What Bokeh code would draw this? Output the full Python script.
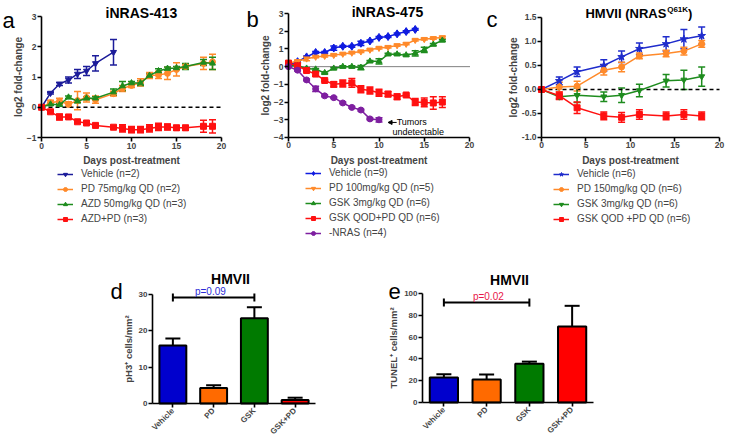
from math import pi
from bokeh.plotting import figure
from bokeh.models import (ColumnDataSource, Whisker, TeeHead, Label, Legend, LegendItem,
                          FixedTicker, Range1d, Arrow, NormalHead, NumeralTickFormatter, LinearAxis)
from bokeh.layouts import row, column
from bokeh.embed import file_html
from bokeh.resources import INLINE

FONT = "Liberation Sans"

# ---------------- Panel a: iNRAS-413 ----------------
a_days_veh = [0, 1, 2, 3, 4, 5, 6, 8]
a_veh = [0, 0.47, 0.77, 0.9, 1.1, 1.2, 1.45, 1.82]
a_veh_err = [0, 0.03, 0.05, 0.1, 0.15, 0.15, 0.25, 0.42]
a_days = [0, 1, 2, 3, 4, 5, 6, 8, 9, 10, 11, 12, 13, 14, 15, 16, 18, 19]
a_pd = [0, 0.15, 0.2, 0.1, 0.22, 0.32, 0.25, 0.45, 0.62, 0.72, 0.82, 1.05, 1.07, 1.12, 1.25, 1.35, 1.45, 1.5]
a_pd_err = [0, 0.08, 0.1, 0.08, 0.3, 0.15, 0.12, 0.08, 0.1, 0.07, 0.12, 0.1, 0.12, 0.2, 0.22, 0.06, 0.2, 0.25]
a_azd = [0, 0.1, 0.08, 0.33, 0.2, 0.3, 0.3, 0.5, 0.7, 0.8, 0.8, 1.05, 1.2, 1.28, 1.3, 1.35, 1.48, 1.45]
a_azd_err = [0, 0.03, 0.04, 0.04, 0.05, 0.05, 0.05, 0.1, 0.15, 0.05, 0.08, 0.05, 0.07, 0.05, 0.05, 0.1, 0.1, 0.2]
a_combo = [0, -0.15, -0.32, -0.32, -0.48, -0.52, -0.6, -0.66, -0.7, -0.74, -0.74, -0.7, -0.65, -0.65, -0.68, -0.68, -0.63, -0.63]
a_combo_err = [0, 0.03, 0.1, 0.04, 0.04, 0.03, 0.04, 0.04, 0.12, 0.1, 0.1, 0.12, 0.12, 0.1, 0.08, 0.08, 0.2, 0.22]
a_labels = ["Vehicle (n=2)", "PD 75mg/kg QD (n=2)", "AZD 50mg/kg QD (n=3)", "AZD+PD (n=3)"]

# ---------------- Panel b: iNRAS-475 ----------------
b_days_veh = list(range(0, 15))
b_veh = [0.1, 0.28, 0.55, 0.8, 0.8, 1.05, 1.15, 1.15, 1.32, 1.45, 1.65, 1.7, 1.85, 1.98, 2.1]
b_veh_err = [0, 0.05, 0.05, 0.05, 0.05, 0.12, 0.05, 0.05, 0.12, 0.05, 0.05, 0.05, 0.05, 0.05, 0.05]
b_days = list(range(0, 18))
b_pd = [0.2, 0.3, 0.45, 0.55, 0.6, 0.65, 0.72, 0.78, 0.85, 0.95, 1.05, 1.1, 1.2, 1.28, 1.5, 1.55, 1.6, 1.65]
b_pd_err = [0.05, 0.05, 0.12, 0.05, 0.05, 0.05, 0.05, 0.05, 0.05, 0.05, 0.05, 0.05, 0.05, 0.05, 0.05, 0.05, 0.05, 0.05]
b_gsk = [0.05, 0.05, -0.1, -0.15, -0.35, -0.1, 0, 0, -0.05, 0.3, 0.3, 0.7, 0.7, 0.65, 0.75, 0.95, 1.25, 1.48]
b_gsk_err = [0.03, 0.03, 0.03, 0.05, 0.05, 0.05, 0.05, 0.05, 0.12, 0.05, 0.15, 0.05, 0.05, 0.05, 0.15, 0.15, 0.05, 0.05]
b_combo = [0.2, 0.05, -0.22, -0.42, -0.78, -1.0, -0.95, -0.92, -1.28, -1.35, -1.47, -1.55, -1.7, -1.6, -2.0, -2.02, -2.05, -2.0]
b_combo_err = [0.05, 0.15, 0.05, 0.12, 0.05, 0.15, 0.2, 0.25, 0.2, 0.2, 0.2, 0.15, 0.15, 0.05, 0.2, 0.25, 0.35, 0.3]
b_days_nras = list(range(0, 11))
b_nras = [0, -0.2, -0.75, -1.25, -1.65, -1.75, -2.05, -2.3, -2.45, -2.95, -3.0]
b_nras_err = [0.03, 0.05, 0.05, 0.15, 0.05, 0.05, 0.05, 0.05, 0.05, 0.05, 0.12]
b_labels = ["Vehicle (n=9)", "PD 100mg/kg QD (n=5)", "GSK 3mg/kg QD (n=6)", "GSK QOD+PD QD (n=6)", "-NRAS (n=4)"]

# ---------------- Panel c: HMVII ----------------
c_days = [0, 2, 4, 7, 9, 11, 14, 16, 18]
c_veh = [0, 0.18, 0.37, 0.5, 0.68, 0.85, 0.95, 1.05, 1.12]
c_veh_err = [0, 0.08, 0.1, 0.12, 0.12, 0.12, 0.15, 0.2, 0.18]
c_pd = [0, 0.05, 0.07, 0.4, 0.47, 0.7, 0.75, 0.8, 0.95]
c_pd_err = [0, 0.1, 0.1, 0.1, 0.1, 0.06, 0.07, 0.08, 0.07]
c_gsk = [0, -0.15, -0.12, -0.15, -0.12, -0.02, 0.18, 0.2, 0.27]
c_gsk_err = [0, 0.05, 0.15, 0.1, 0.15, 0.13, 0.13, 0.2, 0.2]
c_combo = [0, -0.13, -0.38, -0.55, -0.58, -0.52, -0.55, -0.52, -0.55]
c_combo_err = [0, 0.08, 0.12, 0.08, 0.1, 0.1, 0.08, 0.1, 0.08]
c_labels = ["Vehicle (n=6)", "PD 150mg/kg QD (n=6)", "GSK 3mg/kg QD (n=6)", "GSK QOD +PD QD (n=6)"]

# ---------------- Panels d, e: bars ----------------
bar_cats = ["Vehicle", "PD", "GSK", "GSK+PD"]
d_vals = [16.0, 4.3, 23.5, 1.0]
d_err = [1.9, 0.7, 3.0, 0.6]
e_vals = [23.0, 21.0, 35.5, 69.7]
e_err = [3.0, 4.7, 2.0, 19.0]
d_pval = "p=0.09"
e_pval = "p=0.02"

BLUE_A = "#1c1c9a"
BLUE_B = "#0f1be0"
BLUE_C = "#1f2ccc"
ORANGE = "#ff8a2a"
GREEN = "#1e8c1e"
RED = "#ff1010"
PURPLE = "#7e1fa0"
BAR_COLORS = ["#0000cd", "#ff6a00", "#007a00", "#ff0000"]


def style_axis(ax, tick_size, label_size, label_standoff):
    ax.axis_line_width = 1.6
    ax.major_tick_line_width = 1.6
    ax.major_tick_out = 4
    ax.major_tick_in = 0
    ax.minor_tick_line_color = None
    ax.major_label_text_font = FONT
    ax.major_label_text_font_style = "bold"
    ax.major_label_text_font_size = tick_size
    ax.axis_label_text_font = FONT
    ax.axis_label_text_font_style = "bold"
    ax.axis_label_text_font_size = label_size
    ax.major_label_standoff = 1
    ax.axis_label_standoff = label_standoff


def base_fig(width, height, xr, yr):
    p = figure(width=width, height=height, output_backend="svg", toolbar_location=None,
               x_range=Range1d(*xr), y_range=Range1d(*yr),
               x_axis_location=None, y_axis_location=None, min_border=0)
    p.outline_line_color = None
    p.xgrid.visible = False
    p.ygrid.visible = False
    p.background_fill_color = None
    p.border_fill_color = None
    return p


def add_axes(p, xb, yb, xticks, yticks, xlabel, ylabel, tick_size="8.5px", label_size="10px",
             ystand=0):
    xa = LinearAxis(fixed_location=yb[0], bounds=xb, ticker=FixedTicker(ticks=xticks),
                    axis_label=xlabel)
    ya = LinearAxis(fixed_location=xb[0], bounds=yb, ticker=FixedTicker(ticks=yticks),
                    axis_label=ylabel)
    style_axis(xa, tick_size, label_size, 3)
    style_axis(ya, tick_size, label_size, ystand)
    p.add_layout(xa, "below")
    p.add_layout(ya, "left")
    return xa, ya


def add_series(p, x, y, err, color, marker, msize):
    up = [v + e for v, e in zip(y, err)]
    lo = [v - e for v, e in zip(y, err)]
    src = ColumnDataSource(dict(x=x, y=y, up=up, lo=lo))
    w = Whisker(source=src, base="x", upper="up", lower="lo", dimension="height",
                line_color=color, line_width=1.5,
                upper_head=TeeHead(size=7, line_color=color, line_width=1.5),
                lower_head=TeeHead(size=7, line_color=color, line_width=1.5))
    p.add_layout(w)
    l = p.line("x", "y", source=src, line_color=color, line_width=1.5)
    s = p.scatter("x", "y", source=src, marker=marker, size=msize, color=color)
    return [l, s]


def add_legend(p, items, loc):
    lg = Legend(items=[LegendItem(label=t, renderers=r) for t, r in items],
                location=loc, background_fill_alpha=0, border_line_color=None,
                padding=0, margin=0, spacing=4, glyph_height=10, glyph_width=16,
                label_height=10, label_standoff=8, label_text_font=FONT,
                label_text_font_size="10px", label_text_baseline="middle")
    p.add_layout(lg)


def text(p, x, y, t, size, style="bold", align="center", baseline="middle", color="black"):
    p.add_layout(Label(x=x, y=y, text=t, text_font=FONT, text_font_size=size,
                       text_font_style=style, text_align=align, text_baseline=baseline,
                       text_color=color))


# ---- a  (page x 0..244, y 0..245; 0..20 -> 41..221, 3..-1 -> 16..137)
pa = base_fig(244, 245, (-4.556, 22.556), (-4.570, 3.529))
add_axes(pa, (0, 20), (-1, 3), [0, 5, 10, 15, 20], [-1, 0, 1, 2, 3],
         "Days post-treatment", "log2 fold-change")
pa.line(x=[0, 20], y=[0, 0], line_color="black", line_width=1.5, line_dash="4 3")
ra = [
    add_series(pa, a_days_veh, a_veh, a_veh_err, BLUE_A, "inverted_triangle", 6),
    add_series(pa, a_days, a_pd, a_pd_err, ORANGE, "circle", 6),
    add_series(pa, a_days, a_azd, a_azd_err, GREEN, "triangle", 6),
    add_series(pa, a_days, a_combo, a_combo_err, RED, "square", 6),
]
add_legend(pa, list(zip(a_labels, ra)), (57, 21))
text(pa, 11.1, 3.13, "iNRAS-413", "14px")
text(pa, -4.33, 2.88, "a", "22px", style="normal", align="left", baseline="alphabetic")

# ---- b  (page x 244..484; 0..20 -> 288..469; 3..-4 -> 13..137)
pb = base_fig(240, 245, (-4.862, 21.657), (-10.097, 3.734))
add_axes(pb, (0, 20), (-4, 3), [0, 5, 10, 15, 20], [-4, -3, -2, -1, 0, 1, 2, 3],
         "Days post-treatment", "log2 fold-change")
pb.line(x=[0, 20], y=[0, 0], line_color="black", line_width=1, line_dash="1 1")
rb = [
    add_series(pb, b_days_veh, b_veh, b_veh_err, BLUE_B, "diamond", 8),
    add_series(pb, b_days, b_pd, b_pd_err, ORANGE, "inverted_triangle", 6),
    add_series(pb, b_days, b_gsk, b_gsk_err, GREEN, "triangle", 6),
    add_series(pb, b_days, b_combo, b_combo_err, RED, "square", 6),
    add_series(pb, b_days_nras, b_nras, b_nras_err, PURPLE, "circle", 6),
]
add_legend(pb, list(zip(b_labels, rb)), (61, 7))
text(pb, 10.94, 3.06, "iNRAS-475", "14px")
text(pb, -4.64, 2.66, "b", "22px", style="normal", align="left", baseline="alphabetic")
pb.add_layout(Arrow(end=NormalHead(size=4, fill_color="black", line_color="black"),
                    x_start=11.95, y_start=-3.15, x_end=11.0, y_end=-3.15,
                    line_color="black", line_width=1))
text(pb, 11.95, -3.15, "Tumors", "9px", style="normal", align="left")
text(pb, 11.5, -3.68, "undetectable", "9px", style="normal", align="left")

# ---- c  (page x 484..729; 0..20 -> 541..719; 1.5..-1 -> 17..137)
pc = base_fig(245, 245, (-6.404, 21.124), (-3.25, 1.854))
xa_c, ya_c = add_axes(pc, (0, 20), (-1, 1.5), [0, 5, 10, 15, 20], [-1, -0.5, 0, 0.5, 1, 1.5],
                      "Days post-treatment", "log2 fold-change")
ya_c.formatter = NumeralTickFormatter(format="0.0")
pc.line(x=[0, 20], y=[0, 0], line_color="black", line_width=1.5, line_dash="4 3")
rc = [
    add_series(pc, c_days, c_veh, c_veh_err, BLUE_C, "star", 8),
    add_series(pc, c_days, c_pd, c_pd_err, ORANGE, "circle", 6),
    add_series(pc, c_days, c_gsk, c_gsk_err, GREEN, "inverted_triangle", 6),
    add_series(pc, c_days, c_combo, c_combo_err, RED, "square", 6),
]
add_legend(pc, list(zip(c_labels, rc)), (69, 21))
text(pc, 4.94, 1.583, "HMVII (NRAS", "13px", align="left")
text(pc, 14.12, 1.667, "Q61K", "8px", align="left")
text(pc, 16.45, 1.583, ")", "13px", align="left")
text(pc, -6.18, 1.45, "c", "22px", style="normal", align="left", baseline="alphabetic")


# ---- bars
def bar_fig(width, height, xr, yr, ymax, yticks, vals, errs, ylabel, title_xy, letter,
            letter_xy, pval, pcolor, bracket_y, cap, ptext_xy):
    p = base_fig(width, height, xr, yr)
    xs = [i + 0.5 for i in range(len(bar_cats))]
    xa, ya = add_axes(p, (0, len(bar_cats)), (0, ymax), xs, yticks, None, ylabel,
                      tick_size="8px", label_size="9.5px", ystand=2)
    xa.major_label_overrides = {x: c for x, c in zip(xs, bar_cats)}
    xa.major_label_orientation = pi / 4
    xa.major_label_standoff = 2
    src = ColumnDataSource(dict(x=xs, top=vals, color=BAR_COLORS,
                                up=[v + e for v, e in zip(vals, errs)]))
    p.vbar(x="x", top="top", width=0.66, source=src, fill_color="color",
           line_color="black", line_width=2)
    p.add_layout(Whisker(source=src, base="x", upper="up", lower="top", dimension="height",
                         line_color="black", line_width=2,
                         upper_head=TeeHead(size=15, line_color="black", line_width=2),
                         lower_head=None))
    bx0, bx1 = xs[0], xs[2]
    p.segment(x0=[bx0, bx0, bx1], y0=[bracket_y, bracket_y - cap, bracket_y - cap],
              x1=[bx1, bx0, bx1], y1=[bracket_y, bracket_y + cap, bracket_y + cap],
              line_color="black", line_width=2)
    text(p, ptext_xy[0], ptext_xy[1], pval, "10px", style="normal", color=pcolor)
    text(p, title_xy[0], title_xy[1], "HMVII", "14px")
    text(p, letter_xy[0], letter_xy[1], letter, "22px", style="normal", align="left",
         baseline="alphabetic")
    return p


# d: page x 0..330, y 245..440; 0..4 -> 152..315; 0..30 -> 403..294
pd_ = bar_fig(330, 195, (-3.730, 4.368), (-10.18, 43.49), 30, [0, 10, 20, 30], d_vals, d_err,
              "pH3\u207a cells/mm\u00b2", (1.914, 34.4), "d", (-1.03, 30.8),
              d_pval, "#2b2bd6", 29.2, 1.1, (1.42, 30.9))
# e: page x 330..729; 0..4 -> 422..593; 0..100 -> 402..293
pe = bar_fig(399, 195, (-2.152, 7.181), (-34.86, 144.04), 100, [0, 20, 40, 60, 80, 100],
             e_vals, e_err, "TUNEL\u207a cells/mm\u00b2", (2.035, 112), "e", (-0.795, 101.8),
             e_pval, "#e8174a", 91.7, 3.7, (1.54, 97.7))

layout = column(row(pa, pb, pc), row(pd_, pe))
open("out.html", "w").write(file_html(layout, INLINE))
